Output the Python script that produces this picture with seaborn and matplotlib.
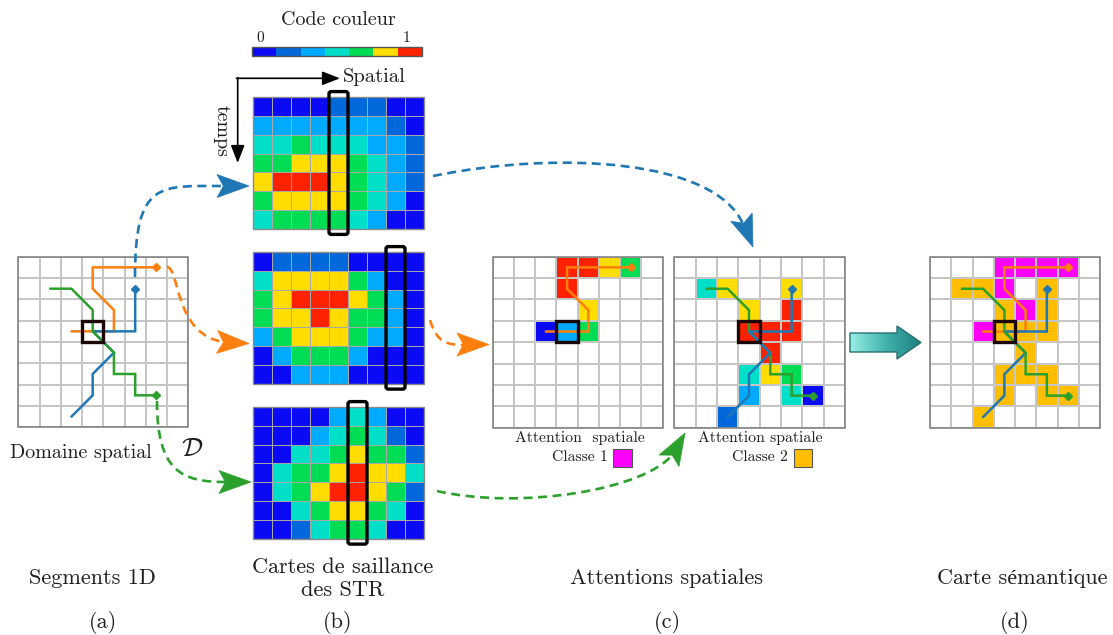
import numpy as np
import matplotlib
matplotlib.use("Agg")
import matplotlib.pyplot as plt
import seaborn as sns
from matplotlib.colors import ListedColormap, LinearSegmentedColormap
from matplotlib.patches import Rectangle, PathPatch, Polygon, FancyBboxPatch
from matplotlib.path import Path

sns.set_theme(style="white")
plt.rcParams["font.family"] = ["cmr10", "Liberation Serif"]
plt.rcParams["mathtext.fontset"] = "cm"
plt.rcParams["axes.unicode_minus"] = False
plt.rcParams["axes.formatter.use_mathtext"] = True
plt.rcParams["text.color"] = "#1e1e1e"

# ---------------- data ----------------
level_colors = ["#0a0af5", "#0068da", "#00aaff", "#00e0c8", "#00dd55", "#ffdd00", "#ff2200"]
colorbar_levels = [0, 1, 2, 3, 4, 5, 6]

saliency_map_1 = [
    [0, 0, 0, 0, 1, 1, 1, 0, 0],
    [2, 2, 2, 2, 2, 2, 2, 1, 0],
    [3, 3, 4, 3, 3, 3, 2, 2, 1],
    [4, 4, 5, 5, 5, 4, 3, 2, 1],
    [5, 6, 6, 6, 5, 4, 3, 2, 1],
    [4, 5, 5, 5, 5, 4, 3, 2, 0],
    [3, 4, 4, 4, 4, 3, 2, 0, 0],
]
saliency_map_2 = [
    [0, 1, 1, 1, 1, 0, 0, 0, 0],
    [3, 5, 5, 5, 5, 4, 2, 0, 0],
    [4, 5, 6, 6, 6, 5, 4, 2, 0],
    [4, 5, 5, 6, 5, 4, 4, 2, 0],
    [2, 4, 5, 5, 5, 4, 2, 2, 0],
    [0, 2, 4, 4, 4, 2, 0, 0, 0],
    [0, 0, 2, 2, 2, 0, 0, 0, 0],
]
saliency_map_3 = [
    [0, 0, 0, 0, 2, 3, 2, 0, 0],
    [0, 0, 0, 2, 3, 4, 3, 1, 0],
    [0, 0, 3, 3, 4, 5, 4, 4, 1],
    [0, 3, 4, 4, 5, 6, 5, 5, 3],
    [0, 3, 4, 5, 6, 6, 5, 4, 1],
    [0, 0, 3, 4, 5, 5, 4, 3, 0],
    [0, 0, 1, 3, 4, 4, 3, 0, 0],
]
saliency_box_columns = [4, 7, 5]

_ = None
attention_class_1 = [
    [_, _, _, 6, 6, 5, 4, _],
    [_, _, _, 6, _, _, _, _],
    [_, _, _, _, 5, _, _, _],
    [_, _, 0, 2, 4, _, _, _],
    [_, _, _, _, _, _, _, _],
    [_, _, _, _, _, _, _, _],
    [_, _, _, _, _, _, _, _],
    [_, _, _, _, _, _, _, _],
]
attention_class_2 = [
    [_, _, _, _, _, _, _, _],
    [_, 3, 5, _, _, 5, _, _],
    [_, _, _, 5, _, 6, _, _],
    [_, _, _, 6, 6, 6, _, _],
    [_, _, _, _, 6, _, _, _],
    [_, _, _, 3, 5, 4, _, _],
    [_, _, _, 2, _, 3, 0, _],
    [_, _, 1, _, _, _, _, _],
]
semantic_map = [
    [0, 0, 0, 1, 1, 1, 1, 0],
    [0, 2, 2, 1, 0, 2, 0, 0],
    [0, 0, 0, 2, 1, 2, 0, 0],
    [0, 0, 1, 2, 2, 2, 0, 0],
    [0, 0, 0, 0, 2, 0, 0, 0],
    [0, 0, 0, 2, 2, 2, 0, 0],
    [0, 0, 0, 2, 0, 2, 2, 0],
    [0, 0, 2, 0, 0, 0, 0, 0],
]
class_colors = ["#ffffff", "#ff00ff", "#ffbf00"]
focus_cell = (3, 3)

orange_x = [2.5, 4.5, 4.5, 3.5, 3.5, 6.5]
orange_y = [3.5, 3.5, 2.5, 1.5, 0.5, 0.5]
blue_x = [2.5, 3.5, 3.5, 4.5, 3.5, 5.5, 5.5]
blue_y = [7.5, 6.5, 5.5, 4.5, 3.5, 3.5, 1.5]
green_x = [1.5, 2.5, 3.5, 3.5, 4.5, 4.5, 5.5, 5.5, 6.5]
green_y = [1.5, 1.5, 2.5, 3.5, 4.5, 5.5, 5.5, 6.5, 6.5]
C_ORANGE, C_BLUE, C_GREEN = "#ff7f0e", "#1f77b4", "#2ca02c"

bottom_labels = ["Segments 1D", "Cartes de saillance\ndes STR", "Attentions spatiales", "Carte sémantique"]
panel_letters = ["(a)", "(b)", "(c)", "(d)"]

# ---------------- figure ----------------
W, H = 1113, 635
fig = plt.figure(figsize=(W / 100, H / 100), dpi=100)
fig.patch.set_facecolor("white")


def add_ax(x0, y0, x1, y1):
    return fig.add_axes([x0 / W, 1 - y1 / H, (x1 - x0) / W, (y1 - y0) / H])


def border(ax, nx, ny, color, lw):
    ax.add_patch(Rectangle((0, 0), nx, ny, fill=False, ec=color, lw=lw, clip_on=False, zorder=5))


def to_grid(vals):
    return np.array([[np.nan if v is None else v for v in row] for row in vals], float)


cmap_levels = ListedColormap(level_colors)
cmap_att = ListedColormap(["#ffffff"] + level_colors)

# colour bar
axc = add_ax(252, 46.5, 422, 56)
sns.heatmap(np.array([colorbar_levels]), ax=axc, cmap=cmap_levels, vmin=-0.5, vmax=6.5,
            cbar=False, xticklabels=False, yticklabels=False, linewidths=0)
border(axc, 7, 1, "#555555", 1.0)

# saliency maps
sal_boxes = [(253, 96.7, 424, 229.3), (253, 251.7, 424, 384), (253, 406.7, 424, 539)]
for data, (x0, y0, x1, y1), col in zip([saliency_map_1, saliency_map_2, saliency_map_3],
                                       sal_boxes, saliency_box_columns):
    ax = add_ax(x0, y0, x1, y1)
    sns.heatmap(np.array(data), ax=ax, cmap=cmap_levels, vmin=-0.5, vmax=6.5, cbar=False,
                xticklabels=False, yticklabels=False, linewidths=0.7, linecolor="#a8a8a8")
    border(ax, 9, 7, "#8a8a8a", 1.0)
    ax.add_patch(FancyBboxPatch((col, -0.27), 1, 7.54, boxstyle="round,pad=0,rounding_size=0.12",
                                fill=False, ec="black", lw=2.4, clip_on=False, zorder=6))


def grid_panel(x0, y0, x1, y1, data, cmap, vmin, vmax, paths):
    ax = add_ax(x0, y0, x1, y1)
    sns.heatmap(data, ax=ax, cmap=cmap, vmin=vmin, vmax=vmax, cbar=False,
                xticklabels=False, yticklabels=False, linewidths=1.4, linecolor="#c6c6c6")
    border(ax, 8, 8, "#7a7a7a", 1.1)
    for xs, ys, c in paths:
        ax.plot(xs, ys, color=c, lw=1.8, zorder=7, solid_joinstyle="miter", clip_on=False)
        ax.plot([xs[-1]], [ys[-1]], marker="D", ms=4.5, color=c, zorder=7, clip_on=False)
    fx, fy = focus_cell
    ax.add_patch(Rectangle((fx, fy), 1, 1, fill=False, ec="#1c0505", lw=2.4, zorder=8, clip_on=False))
    return ax


all_paths = [(orange_x, orange_y, C_ORANGE), (blue_x, blue_y, C_BLUE), (green_x, green_y, C_GREEN)]

grid_panel(18.3, 256.7, 188.3, 427.3, np.zeros((8, 8)), ListedColormap(["#ffffff"]), 0, 1, all_paths)

a1 = np.nan_to_num(to_grid(attention_class_1), nan=-1)
grid_panel(492.7, 256.7, 662.7, 427.7, a1, cmap_att, -1.5, 6.5, [(orange_x, orange_y, C_ORANGE)])

a2 = np.nan_to_num(to_grid(attention_class_2), nan=-1)
grid_panel(674.3, 256.7, 845, 427.7, a2, cmap_att, -1.5, 6.5,
           [(green_x, green_y, C_GREEN), (blue_x, blue_y, C_BLUE)])

grid_panel(930, 256.7, 1100, 427.7, np.array(semantic_map), ListedColormap(class_colors), -0.5, 2.5,
           all_paths)

# ---------------- overlay ----------------
ov = fig.add_axes([0, 0, 1, 1])
ov.set_axis_off()


def dashed_curve(p0, p1, p2, p3, color):
    path = Path([p0, p1, p2, p3], [Path.MOVETO, Path.CURVE4, Path.CURVE4, Path.CURVE4])
    ov.add_patch(PathPatch(path, fill=False, ec=color, lw=1.9, ls=(0, (3.4, 2.1)), zorder=4))


def arrow_head(tip, d, color, L=32, Wd=23):
    d = np.array(d, float)
    d /= np.linalg.norm(d)
    n = np.array([-d[1], d[0]])
    tip = np.array(tip, float)
    base = tip - L * d
    pts = [tip, base + n * Wd / 2, tip - 0.8 * L * d, base - n * Wd / 2]
    ov.add_patch(Polygon(pts, closed=True, fc=color, ec=color, lw=0.5, zorder=5))


dashed_curve((135, 277), (135, 180), (160, 186), (224, 186), C_BLUE)
arrow_head((249, 186), (1, 0), C_BLUE)
dashed_curve((167, 267), (180, 268), (174, 335), (224, 342), C_ORANGE)
arrow_head((249, 343.5), (1, 0.05), C_ORANGE)
dashed_curve((157, 401), (157, 472), (182, 482), (226, 482), C_GREEN)
arrow_head((251, 482), (1, 0), C_GREEN)
dashed_curve((433, 176), (560, 150), (715, 160), (743, 224), C_BLUE)
arrow_head((753, 247), (0.36, 0.93), C_BLUE)
dashed_curve((430, 320), (437, 343), (447, 345), (465, 345), C_ORANGE)
arrow_head((489, 344.5), (1, 0), C_ORANGE)
dashed_curve((437, 491), (520, 510), (645, 490), (673, 454), C_GREEN)
arrow_head((685, 433), (0.5, -0.87), C_GREEN)

# spatial / temps axes arrows
ov.annotate("", xy=(340, 78.3), xytext=(236.5, 78.3),
            arrowprops=dict(arrowstyle="-|>,head_length=0.9,head_width=0.35", color="black", lw=1.2,
                            shrinkA=0, shrinkB=0))
ov.annotate("", xy=(237.7, 163), xytext=(237.7, 77.7),
            arrowprops=dict(arrowstyle="-|>,head_length=0.9,head_width=0.35", color="black", lw=1.2,
                            shrinkA=0, shrinkB=0))
ov.text(343, 77, "Spatial", fontsize=14.8, ha="left", va="center")
ov.text(222, 131, "temps", fontsize=14.3, ha="center", va="center", rotation=-90)

# colour bar labels
ov.text(338, 20, "Code couleur", fontsize=14.5, ha="center", va="center")
ov.text(260.7, 38, "0", fontsize=11, ha="center", va="center")
ov.text(407, 38, "1", fontsize=11, ha="center", va="center")

# teal arrow
arrow_pts = [(850, 333), (897, 333), (897, 326), (921, 342.5), (897, 359), (897, 352), (850, 352)]
tpoly = Polygon(arrow_pts, closed=True, fc="none", ec="#2a6e6e", lw=1.0, zorder=6)
ov.add_patch(tpoly)
teal = LinearSegmentedColormap.from_list("teal", ["#9aeee4", "#3fb3ad", "#1f7f7f"])
im = ov.imshow(np.linspace(0, 1, 256).reshape(1, -1), extent=(850, 921, 359, 326), cmap=teal,
               aspect="auto", zorder=5, interpolation="bilinear")
im.set_clip_path(tpoly)

# panel texts
ov.text(81, 453, "Domaine spatial", fontsize=14.4, ha="center", va="center")
ov.text(192, 449, r"$\mathcal{D}$", fontsize=19, ha="center", va="center")
ov.text(580, 438, "Attention  spatiale", fontsize=11.3, ha="center", va="center")
ov.text(580, 457, "Classe 1", fontsize=11.3, ha="center", va="center")
ov.add_patch(Rectangle((613.3, 449), 18.4, 17.7, fc=class_colors[1], ec="#555555", lw=0.8, zorder=5))
ov.text(760, 438, "Attention spatiale", fontsize=11.3, ha="center", va="center")
ov.text(760, 457, "Classe 2", fontsize=11.3, ha="center", va="center")
ov.add_patch(Rectangle((794.3, 449), 18.0, 17.7, fc=class_colors[2], ec="#555555", lw=0.8, zorder=5))

label_pos = [(92, 578), (343, 579), (667, 578), (1022, 578)]
letter_pos = [(103, 622), (338, 622), (667, 622), (1015, 622)]
for (x, y), s in zip(label_pos, bottom_labels):
    ov.text(x, y, s, fontsize=16, ha="center", va="center", linespacing=1.25)
for (x, y), s in zip(letter_pos, panel_letters):
    ov.text(x, y, s, fontsize=16, ha="center", va="center")

ov.set_xlim(0, W)
ov.set_ylim(H, 0)

fig.savefig("out.png", dpi=100, facecolor="white")
